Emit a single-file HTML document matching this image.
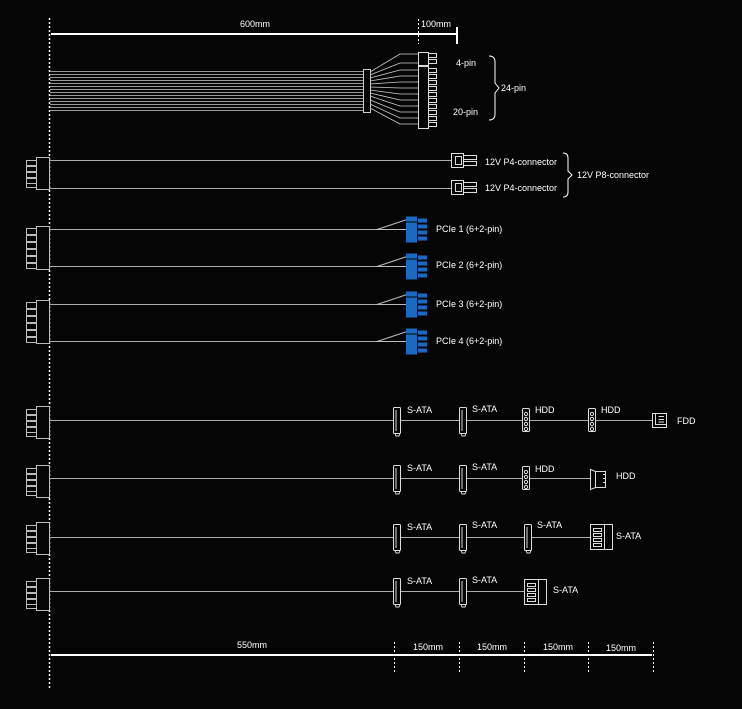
<!DOCTYPE html>
<html><head><style>
html,body{margin:0;padding:0;background:#050505;}
svg{display:block;}
text{font-family:"Liberation Sans",sans-serif;fill:#fff;font-size:9px;}
</style></head><body>
<svg width="742" height="709" viewBox="0 0 742 709" xmlns="http://www.w3.org/2000/svg">
<defs>
  <g id="psu" fill="none" stroke="#bbb" stroke-width="1">
    <rect x="36.5" y="0.5" width="13" height="32" fill="#050505"/>
    <rect x="26.5" y="3.5" width="10" height="5"/>
    <rect x="26.5" y="9.5" width="10" height="5"/>
    <rect x="26.5" y="15.5" width="10" height="5"/>
    <rect x="26.5" y="21.5" width="10" height="5"/>
    <rect x="26.5" y="26.5" width="10" height="4"/>
  </g>
  <g id="psu6" fill="none" stroke="#bbb" stroke-width="1">
    <rect x="36.5" y="0.5" width="13" height="43" fill="#050505"/>
    <rect x="26.5" y="2.5" width="10" height="6"/>
    <rect x="26.5" y="9.5" width="10" height="6"/>
    <rect x="26.5" y="16.5" width="10" height="6"/>
    <rect x="26.5" y="23.5" width="10" height="6"/>
    <rect x="26.5" y="30.5" width="10" height="6"/>
    <rect x="26.5" y="37.5" width="10" height="5"/>
  </g>
  <g id="sata" fill="#050505" stroke="#ddd" stroke-width="1">
    <rect x="-3.5" y="-13.5" width="7" height="26" rx="1"/>
    <line x1="-1" y1="-11" x2="-1" y2="10"/>
    <path d="M-2 12.5 L-1 15 L2 15 L3 12.5" fill="none"/>
  </g>
  <g id="molex" fill="#050505" stroke="#ddd" stroke-width="1">
    <rect x="-3.5" y="-12.5" width="7" height="23" rx="1"/>
    <circle cx="0" cy="-7" r="1.6"/><circle cx="0" cy="-2" r="1.6"/><circle cx="0" cy="3" r="1.6"/><circle cx="0" cy="8" r="1.6"/>
  </g>
  <g id="pcie">
    <path d="M0 13 L30 13 M0 13 L30 3" stroke="#bbb" fill="none"/>
    <rect x="29" y="0" width="11" height="5" fill="#1a6ac2"/>
    <rect x="29" y="6" width="11" height="20" fill="#1a6ac2"/>
    <rect x="41" y="2" width="9" height="4" fill="#1a6ac2"/>
    <rect x="41" y="8" width="9" height="4" fill="#1a6ac2"/>
    <rect x="41" y="14" width="9" height="4" fill="#1a6ac2"/>
    <rect x="41" y="20" width="9" height="4" fill="#1a6ac2"/>
  </g>
  <g id="p4" fill="none" stroke="#ddd" stroke-width="1">
    <rect x="0.5" y="0.5" width="12" height="14"/>
    <rect x="4.5" y="3.5" width="6" height="8"/>
    <rect x="12.5" y="2.5" width="13" height="4"/>
    <rect x="12.5" y="8.5" width="13" height="4"/>
  </g>
</defs>

<line x1="49.5" y1="18" x2="49.5" y2="690" stroke="#fff" stroke-width="1.5" stroke-dasharray="2,2"/>

<line x1="51" y1="34" x2="457" y2="34" stroke="#fff" stroke-width="2"/>
<line x1="457" y1="27" x2="457" y2="44" stroke="#fff" stroke-width="2"/>
<line x1="418.5" y1="19" x2="418.5" y2="44" stroke="#fff" stroke-width="1" stroke-dasharray="2,2"/>
<text x="240" y="27">600mm</text>
<text x="421" y="27">100mm</text>

<g stroke="#999" stroke-width="1">
  <line x1="50" y1="71.5" x2="364" y2="71.5"/><line x1="50" y1="74.5" x2="364" y2="74.5"/>
  <line x1="50" y1="77.5" x2="364" y2="77.5"/><line x1="50" y1="80.5" x2="364" y2="80.5"/>
  <line x1="50" y1="83.5" x2="364" y2="83.5"/><line x1="50" y1="86.5" x2="364" y2="86.5"/>
  <line x1="50" y1="89.5" x2="364" y2="89.5"/><line x1="50" y1="92.5" x2="364" y2="92.5"/>
  <line x1="50" y1="95.5" x2="364" y2="95.5"/><line x1="50" y1="98.5" x2="364" y2="98.5"/>
  <line x1="50" y1="101.5" x2="364" y2="101.5"/><line x1="50" y1="104.5" x2="364" y2="104.5"/>
  <line x1="50" y1="107.5" x2="364" y2="107.5"/><line x1="50" y1="110.5" x2="364" y2="110.5"/>
</g>
<g stroke="#ccc" stroke-width="0.8" fill="none">
  <path d="M370 72 L400 54 L419 54"/><path d="M370 75 L400 63 L419 63"/>
  <path d="M370 78 L400 70 L419 70"/><path d="M370 81 L400 76 L419 76"/>
  <path d="M370 84 L400 82 L419 82"/><path d="M370 87 L400 88 L419 88"/>
  <path d="M370 90 L400 94 L419 94"/><path d="M370 93 L400 100 L419 100"/>
  <path d="M370 96 L400 106 L419 106"/><path d="M370 100 L400 112 L419 112"/>
  <path d="M370 104 L400 118 L419 118"/><path d="M370 108 L400 124 L419 124"/>
</g>
<rect x="363.5" y="69.5" width="7" height="43" fill="#050505" stroke="#ccc"/>
<g fill="#050505" stroke="#ddd" stroke-width="1">
  <rect x="418.5" y="52.5" width="10" height="13"/>
  <rect x="428.5" y="53.5" width="8" height="4"/><rect x="428.5" y="59.5" width="8" height="4"/>
  <rect x="418.5" y="66.5" width="10" height="62"/>
  <rect x="428.5" y="68.5" width="8" height="4"/><rect x="428.5" y="74.5" width="8" height="4"/>
  <rect x="428.5" y="80.5" width="8" height="4"/><rect x="428.5" y="86.5" width="8" height="4"/>
  <rect x="428.5" y="92.5" width="8" height="4"/><rect x="428.5" y="98.5" width="8" height="4"/>
  <rect x="428.5" y="104.5" width="8" height="4"/><rect x="428.5" y="110.5" width="8" height="4"/>
  <rect x="428.5" y="116.5" width="8" height="4"/><rect x="428.5" y="122.5" width="8" height="4"/>
</g>
<text x="456" y="66">4-pin</text>
<text x="453" y="115">20-pin</text>
<path d="M489 56 Q495 56 495 62 L495 83 L499 88 L495 93 L495 114 Q495 120 489 120" fill="none" stroke="#fff"/>
<text x="501" y="91">24-pin</text>

<use href="#psu" x="0" y="157"/>
<line x1="50" y1="160.5" x2="452" y2="160.5" stroke="#aaa"/>
<line x1="50" y1="188.5" x2="452" y2="188.5" stroke="#aaa"/>
<use href="#p4" x="451" y="153"/>
<use href="#p4" x="451" y="180"/>
<text x="485" y="165">12V P4-connector</text>
<text x="485" y="191">12V P4-connector</text>
<path d="M563 153 Q568 153 568 158 L568 171 L572 175 L568 179 L568 192 Q568 197 563 197" fill="none" stroke="#fff"/>
<text x="577" y="178">12V P8-connector</text>

<use href="#psu6" x="0" y="226"/>
<use href="#psu6" x="0" y="300"/>
<line x1="50" y1="229.5" x2="378" y2="229.5" stroke="#aaa"/>
<line x1="50" y1="266.5" x2="378" y2="266.5" stroke="#aaa"/>
<line x1="50" y1="304.5" x2="378" y2="304.5" stroke="#aaa"/>
<line x1="50" y1="341.5" x2="378" y2="341.5" stroke="#aaa"/>
<use href="#pcie" x="377" y="216.5"/>
<use href="#pcie" x="377" y="253.5"/>
<use href="#pcie" x="377" y="291.5"/>
<use href="#pcie" x="377" y="328.5"/>
<text x="436" y="232">PCIe 1 (6+2-pin)</text>
<text x="436" y="268">PCIe 2 (6+2-pin)</text>
<text x="436" y="307">PCIe 3 (6+2-pin)</text>
<text x="436" y="344">PCIe 4 (6+2-pin)</text>

<use href="#psu" x="0" y="406"/>
<use href="#psu" x="0" y="465"/>
<use href="#psu" x="0" y="522"/>
<use href="#psu" x="0" y="578"/>
<g stroke="#aaa">
  <line x1="50" y1="420.5" x2="652" y2="420.5"/>
  <line x1="50" y1="478.5" x2="592" y2="478.5"/>
  <line x1="50" y1="537.5" x2="592" y2="537.5"/>
  <line x1="50" y1="591.5" x2="525" y2="591.5"/>
</g>
<use href="#sata" x="397" y="421"/><use href="#sata" x="463" y="421"/>
<use href="#molex" x="526" y="421"/><use href="#molex" x="592" y="421"/>
<g fill="#050505" stroke="#ddd"><rect x="652.5" y="413.5" width="14" height="14"/><path d="M655.5 413.5 L655.5 424.5 L666.5 424.5 M658.5 416.5 L664 416.5 M658.5 419.5 L664 419.5 M658.5 422 L664 422" fill="none"/></g>
<text x="407" y="413">S-ATA</text><text x="472" y="412">S-ATA</text>
<text x="535" y="413">HDD</text><text x="601" y="413">HDD</text><text x="677" y="424">FDD</text>
<use href="#sata" x="397" y="479"/><use href="#sata" x="463" y="479"/>
<use href="#molex" x="526" y="479"/>
<g fill="#050505" stroke="#ddd"><path d="M590.5 469.5 L595.5 471.5 L605.5 471.5 L605.5 487.5 L595.5 487.5 L590.5 489.5 Z"/><line x1="595.5" y1="471.5" x2="595.5" y2="487.5"/><path d="M603 474.5 L605 474.5 M603 478.5 L605 478.5 M603 482.5 L605 482.5" /></g>
<text x="407" y="471">S-ATA</text><text x="472" y="470">S-ATA</text>
<text x="535" y="472">HDD</text><text x="616" y="479">HDD</text>
<use href="#sata" x="397" y="538"/><use href="#sata" x="463" y="538"/><use href="#sata" x="528" y="538"/>
<g fill="#050505" stroke="#ddd"><rect x="590.5" y="524.5" width="22" height="25"/><line x1="604.5" y1="524.5" x2="604.5" y2="549.5"/><rect x="593.5" y="528.5" width="8" height="3"/><rect x="593.5" y="533.5" width="8" height="3"/><rect x="593.5" y="538.5" width="8" height="3"/><rect x="593.5" y="543.5" width="8" height="3"/></g>
<text x="407" y="530">S-ATA</text><text x="472" y="528">S-ATA</text><text x="537" y="528">S-ATA</text><text x="616" y="539">S-ATA</text>
<use href="#sata" x="397" y="592"/><use href="#sata" x="463" y="592"/>
<g fill="#050505" stroke="#ddd"><rect x="524.5" y="579.5" width="22" height="25"/><line x1="538.5" y1="579.5" x2="538.5" y2="604.5"/><rect x="527.5" y="583.5" width="8" height="3"/><rect x="527.5" y="588.5" width="8" height="3"/><rect x="527.5" y="593.5" width="8" height="3"/><rect x="527.5" y="598.5" width="8" height="3"/></g>
<text x="407" y="584">S-ATA</text><text x="472" y="583">S-ATA</text><text x="553" y="593">S-ATA</text>

<line x1="51" y1="655" x2="652" y2="655" stroke="#fff" stroke-width="2"/>
<g stroke="#fff" stroke-width="1" stroke-dasharray="2,2">
  <line x1="394.5" y1="642" x2="394.5" y2="674"/>
  <line x1="459.5" y1="642" x2="459.5" y2="674"/>
  <line x1="524.5" y1="642" x2="524.5" y2="674"/>
  <line x1="588.5" y1="642" x2="588.5" y2="674"/>
  <line x1="653.5" y1="642" x2="653.5" y2="674"/>
</g>
<text x="237" y="648">550mm</text>
<text x="413" y="650">150mm</text>
<text x="477" y="650">150mm</text>
<text x="543" y="650">150mm</text>
<text x="606" y="651">150mm</text>
</svg>
</body></html>
